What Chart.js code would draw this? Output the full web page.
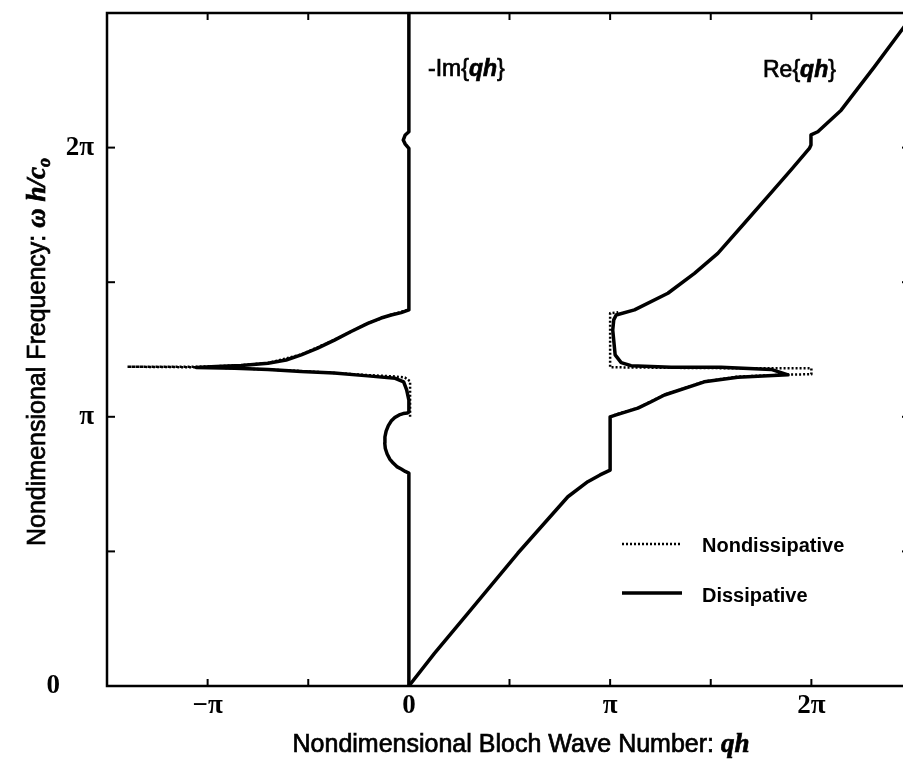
<!DOCTYPE html>
<html>
<head>
<meta charset="utf-8">
<script src="https://cdn.jsdelivr.net/npm/chart.js@4.4.0/dist/chart.umd.min.js"></script>
<style>
  html, body { margin: 0; padding: 0; background: #fff; overflow: hidden; }
  #wrap { width: 916px; height: 768px; }
</style>
</head>
<body>
<div id="wrap"><canvas id="chartBloch" width="916" height="768"></canvas></div>
<script>
// all values in units of pi (qh/pi , omega h/c0 /pi)

// Re{qh}, dissipative (solid)
var reDissX = [0, 0.127, 0.293, 0.541, 0.790, 0.889, 0.95, 1.0, 1.0, 1.03, 1.138, 1.204, 1.270, 1.468, 1.634, 1.884,
  1.800, 1.551, 1.303, 1.104, 1.055, 1.025, 1.013, 1.018, 1.03, 1.121, 1.287, 1.419, 1.535, 1.667, 1.783, 1.899,
  1.990, 1.998, 1.998, 2.032, 2.148, 2.313, 2.461, 2.5];
var reDissY = [0, 0.121, 0.270, 0.493, 0.703, 0.759, 0.784, 0.802, 1.0, 1.007, 1.032, 1.056, 1.081, 1.130, 1.147, 1.156,
  1.176, 1.184, 1.184, 1.190, 1.201, 1.230, 1.322, 1.360, 1.378, 1.397, 1.459, 1.533, 1.607, 1.719, 1.818, 1.917,
  1.997, 2.010, 2.047, 2.059, 2.139, 2.300, 2.449, 2.487];

// Re{qh}, nondissipative (dotted)
var reNonX = [1.0, 1.03, 1.138, 1.270, 1.468, 1.634, 1.884, 2.0, 2.0, 1.7, 1.3, 1.0, 1.0, 1.04];
var reNonY = [1.0, 1.009, 1.033, 1.082, 1.131, 1.149, 1.157, 1.158, 1.180, 1.180, 1.182, 1.184, 1.385, 1.388];

// -Im{qh}, dissipative (solid), drawn on the negative side
var imDissX = [0, 0, -0.018, -0.038, -0.060, -0.078, -0.095, -0.108, -0.117, -0.120, -0.119, -0.113, -0.102, -0.088,
  -0.070, -0.048, -0.028, -0.008, 0, 0, -0.011, -0.026, -0.068,
  -0.204, -0.371, -0.535, -0.700, -0.866, -1.057, -0.957, -0.833, -0.700, -0.610, -0.535, -0.456, -0.370, -0.287,
  -0.204, -0.138, -0.088, -0.038, 0, 0, -0.018, -0.028, -0.018, 0, 0];
var imDissY = [0, 0.791, 0.797, 0.806, 0.815, 0.828, 0.843, 0.862, 0.882, 0.903, 0.925, 0.947, 0.967, 0.984,
  0.997, 1.007, 1.012, 1.014, 1.018, 1.062, 1.100, 1.130, 1.143,
  1.152, 1.163, 1.168, 1.176, 1.180, 1.183, 1.187, 1.191, 1.199, 1.211, 1.230, 1.254, 1.285, 1.317,
  1.347, 1.367, 1.378, 1.387, 1.397, 1.997, 2.013, 2.028, 2.047, 2.059, 2.5];

// -Im{qh}, nondissipative (dotted)
var imNonX = [0.006, 0.006, -0.02, -0.072, -0.204, -0.535, -0.866, -1.057, -1.399, -1.057, -0.957, -0.833, -0.700,
  -0.535, -0.370, -0.204, -0.088, 0];
var imNonY = [1.0, 1.132, 1.146, 1.150, 1.155, 1.170, 1.181, 1.184, 1.186, 1.186, 1.188, 1.192, 1.200,
  1.231, 1.286, 1.348, 1.379, 1.398];

// ticks
var xTickVals = [-1.5, -1, -0.5, 0, 0.5, 1, 1.5, 2, 2.5];
var yTickVals = [0, 0.5, 1, 1.5, 2, 2.5];
var xTickLabels = {'-1': '\u2212\u03c0', '0': '0', '1': '\u03c0', '2': '2\u03c0'};
var yTickLabels = {'0': '0', '1': '\u03c0', '2': '2\u03c0'};

function toPoints(xs, ys) {
  return xs.map(function(x, i) { return {x: x, y: ys[i]}; });
}

// draw a string made of pieces with different fonts (thin stroke to get the heavy scanned look)
function drawPieces(ctx, pieces, x, y, stroke) {
  pieces.forEach(function(p) {
    ctx.font = p.font;
    ctx.fillText(p.text, x, y + (p.dy || 0));
    if (stroke) ctx.strokeText(p.text, x, y + (p.dy || 0));
    x += ctx.measureText(p.text).width;
  });
}
function piecesWidth(ctx, pieces) {
  var w = 0;
  pieces.forEach(function(p) { ctx.font = p.font; w += ctx.measureText(p.text).width; });
  return w;
}

var SANS = '"Liberation Sans", Arial, sans-serif';
var SERIF = '"Liberation Serif", "Times New Roman", serif';

// frame, inward ticks, labels, legend
var framePlugin = {
  id: 'frame',
  afterDatasetsDraw: function(chart) {
    var ctx = chart.ctx, a = chart.chartArea, sx = chart.scales.x, sy = chart.scales.y;
    ctx.save();
    ctx.strokeStyle = '#000';
    ctx.fillStyle = '#000';
    ctx.lineWidth = 2.5;
    ctx.strokeRect(a.left, a.top, a.right - a.left, a.bottom - a.top);

    function seg(x1, y1, x2, y2) { ctx.beginPath(); ctx.moveTo(x1, y1); ctx.lineTo(x2, y2); ctx.stroke(); }
    ctx.lineWidth = 2;
    xTickVals.forEach(function(v) {
      var px = sx.getPixelForValue(v);
      seg(px, a.bottom, px, a.bottom - 7);
      seg(px, a.top, px, a.top + 7);
    });
    yTickVals.forEach(function(v) {
      var py = sy.getPixelForValue(v);
      seg(a.left, py, a.left + 8, py);
      seg(a.right, py, a.right - 10, py);
    });

    // tick labels
    ctx.font = 'bold 27px ' + SERIF;
    ctx.textBaseline = 'middle';
    ctx.textAlign = 'center';
    Object.keys(xTickLabels).forEach(function(k) {
      ctx.fillText(xTickLabels[k], sx.getPixelForValue(parseFloat(k)), 706);
    });
    ctx.textAlign = 'right';
    Object.keys(yTickLabels).forEach(function(k) {
      var xr = k === '0' ? 60 : 94;
      ctx.fillText(yTickLabels[k], xr, sy.getPixelForValue(parseFloat(k)));
    });

    // axis titles
    ctx.textAlign = 'left';
    ctx.textBaseline = 'middle';
    ctx.lineWidth = 0.7;
    var xt = [
      {text: 'Nondimensional Bloch Wave Number: ', font: '25px ' + SANS},
      {text: 'qh', font: 'italic bold 27px ' + SERIF}
    ];
    var w = piecesWidth(ctx, xt);
    drawPieces(ctx, xt, 521 - w / 2, 745, true);

    var yt = [
      {text: 'Nondimensional Frequency: ', font: '25px ' + SANS},
      {text: '\u03c9', font: 'italic bold 27px ' + SERIF},
      {text: ' h/c', font: 'italic bold 27px ' + SERIF},
      {text: 'o', font: 'italic bold 18px ' + SERIF, dy: 7}
    ];
    w = piecesWidth(ctx, yt);
    ctx.save();
    ctx.translate(38, 352);
    ctx.rotate(-Math.PI / 2);
    drawPieces(ctx, yt, -w / 2, 0, true);
    ctx.restore();

    // curve annotations
    drawPieces(ctx, [
      {text: '-Im{', font: '23px ' + SANS},
      {text: 'qh', font: 'italic bold 23px ' + SANS},
      {text: '}', font: '23px ' + SANS}
    ], 428, 70, true);
    drawPieces(ctx, [
      {text: 'Re{', font: '23px ' + SANS},
      {text: 'qh', font: 'italic bold 23px ' + SANS},
      {text: '}', font: '23px ' + SANS}
    ], 763, 71, true);

    // legend
    ctx.lineWidth = 2.5;
    ctx.setLineDash([2, 2]);
    seg(622, 544, 682, 544);
    ctx.setLineDash([]);
    ctx.lineWidth = 3.5;
    seg(622, 593, 682, 593);
    ctx.font = 'bold 20px ' + SANS;
    ctx.fillText('Nondissipative', 702, 546);
    ctx.fillText('Dissipative', 702, 596);
    ctx.restore();
  }
};

var ctx = document.getElementById('chartBloch');
new Chart(ctx, {
  type: 'scatter',
  data: {
    datasets: [
      {label: 'Re dissipative', data: toPoints(reDissX, reDissY), order: 0, borderWidth: 3.5},
      {label: '-Im dissipative', data: toPoints(imDissX, imDissY), order: 0, borderWidth: 3.5},
      {label: 'Re nondissipative', data: toPoints(reNonX, reNonY), order: 1, borderWidth: 2.5, borderDash: [2, 2]},
      {label: '-Im nondissipative', data: toPoints(imNonX, imNonY), order: 1, borderWidth: 2.5, borderDash: [2, 2]}
    ].map(function(d) {
      d.showLine = true;
      d.pointRadius = 0;
      d.borderColor = '#000';
      d.backgroundColor = '#000';
      d.tension = 0;
      d.borderJoinStyle = 'round';
      return d;
    })
  },
  options: {
    responsive: false,
    animation: false,
    events: [],
    layout: { padding: { left: 0, right: 4, top: 13, bottom: 0 } },
    plugins: { legend: { display: false }, tooltip: { enabled: false }, title: { display: false } },
    scales: {
      x: {
        type: 'linear', min: -1.5, max: 2.5,
        grid: { display: false, drawTicks: false }, border: { display: false },
        ticks: { display: false, stepSize: 0.5 },
        afterFit: function(scale) { scale.height = 82; }
      },
      y: {
        type: 'linear', min: 0, max: 2.5,
        grid: { display: false, drawTicks: false }, border: { display: false },
        ticks: { display: false, stepSize: 0.5 },
        afterFit: function(scale) { scale.width = 107; }
      }
    }
  },
  plugins: [framePlugin]
});
</script>
</body>
</html>
